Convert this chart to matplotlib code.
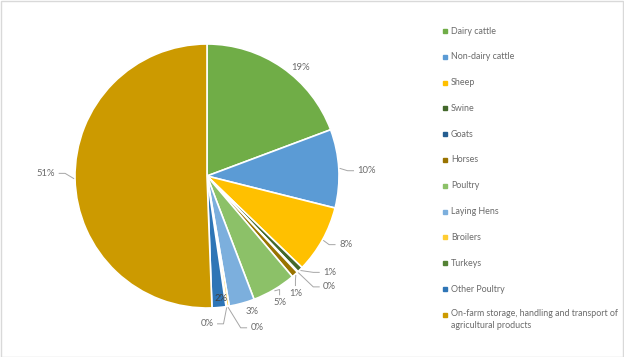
import matplotlib
matplotlib.use("Agg")
import matplotlib.pyplot as plt
from matplotlib.lines import Line2D
from matplotlib.patches import Rectangle
import numpy as np

# data
categories = ['Dairy cattle', 'Non-dairy cattle', 'Sheep', 'Swine', 'Goats', 'Horses',
              'Poultry', 'Laying Hens', 'Broilers', 'Turkeys', 'Other Poultry',
              'On-farm storage, handling and transport of\nagricultural products']
shares = [19.3, 9.6, 8.3, 0.7, 0.1, 0.8, 5.4, 3.1, 0.3, 0.1, 1.7, 50.6]
colors = ['#70AD47', '#5B9BD5', '#FFC000', '#43682B', '#255E91', '#997300',
          '#8CC168', '#7CAFDD', '#FFCD33', '#548235', '#2E75B6', '#CC9A00']

# label positions (pie units) and leader style: '' none, 'h' elbow from side, 'v' from top
label_pos = [(0.71, 0.82), (1.14, 0.04), (1.00, -0.52), (0.88, -0.73), (0.88, -0.84),
             (0.67, -0.89), (0.55, -0.96), (0.34, -1.03), (0.33, -1.15), (0.05, -1.12),
             (0.11, -0.93), (-1.15, 0.02)]
leader = ['', 'h', 'h', 'h', 'h', 'v', 'v', '', 'h', 'h', '', 'h']

W, H = 624, 357
cx, cy, R = 207, 176, 132
gray = '#6b6b6b'
plt.rcParams['font.family'] = ['Lato', 'DejaVu Sans']

fig = plt.figure(figsize=(W / 100, H / 100), dpi=100)
ax = fig.add_axes([0, 0, 1, 1])

wedges, _ = ax.pie(shares, colors=colors, startangle=90, counterclock=False,
                   radius=1, wedgeprops=dict(edgecolor='white', linewidth=1.2))
ax.set_aspect('auto')
ax.set_xlim(-cx / R, (W - cx) / R)
ax.set_ylim((cy - H) / R, cy / R)
ax.axis('off')

for w, v, (lx, ly), ld in zip(wedges, shares, label_pos, leader):
    ang = np.deg2rad((w.theta1 + w.theta2) / 2)
    ex, ey = np.cos(ang) * 1.01, np.sin(ang) * 1.01
    col = gray
    if ld == 'h':
        ha = 'left' if lx > ex else 'right'
    else:
        ha = 'center'
        if np.hypot(lx, ly) < 1:
            col = '#404040'
    ax.text(lx, ly, f'{v:.0f}%', ha=ha, va='center', fontsize=6.8, color=col, zorder=5)
    if ld == 'h':
        gap = 0.03 if ha == 'left' else -0.03
        ax.plot([lx - gap, lx - gap * 2.5, ex], [ly, ly, ey], color='#a6a6a6', lw=0.7)
    elif ld == 'v':
        ax.plot([lx, lx, ex], [ly + 0.06, ly + 0.1, ey], color='#a6a6a6', lw=0.7)

# legend drawn by hand to match the wide row spacing
top = 31
step = 25.8
for i, (name, c) in enumerate(zip(categories, colors)):
    y = 1 - (top + i * step) / H
    fig.add_artist(Line2D([445 / W], [y], marker='s', markersize=3.2, color=c,
                          linestyle='none', transform=fig.transFigure))
    if '\n' in name:
        fig.text(451 / W, y + 5.5 / H, name, ha='left', va='top', fontsize=6.4,
                 color=gray, linespacing=1.45)
    else:
        fig.text(451 / W, y, name, ha='left', va='center', fontsize=6.4, color=gray)

fig.add_artist(Rectangle((0.5 / W, 0.5 / H), 1 - 1.5 / W, 1 - 1.5 / H, fill=False,
                         edgecolor='#d9d9d9', lw=1, transform=fig.transFigure))

fig.savefig('out.png', dpi=100, facecolor='white')
